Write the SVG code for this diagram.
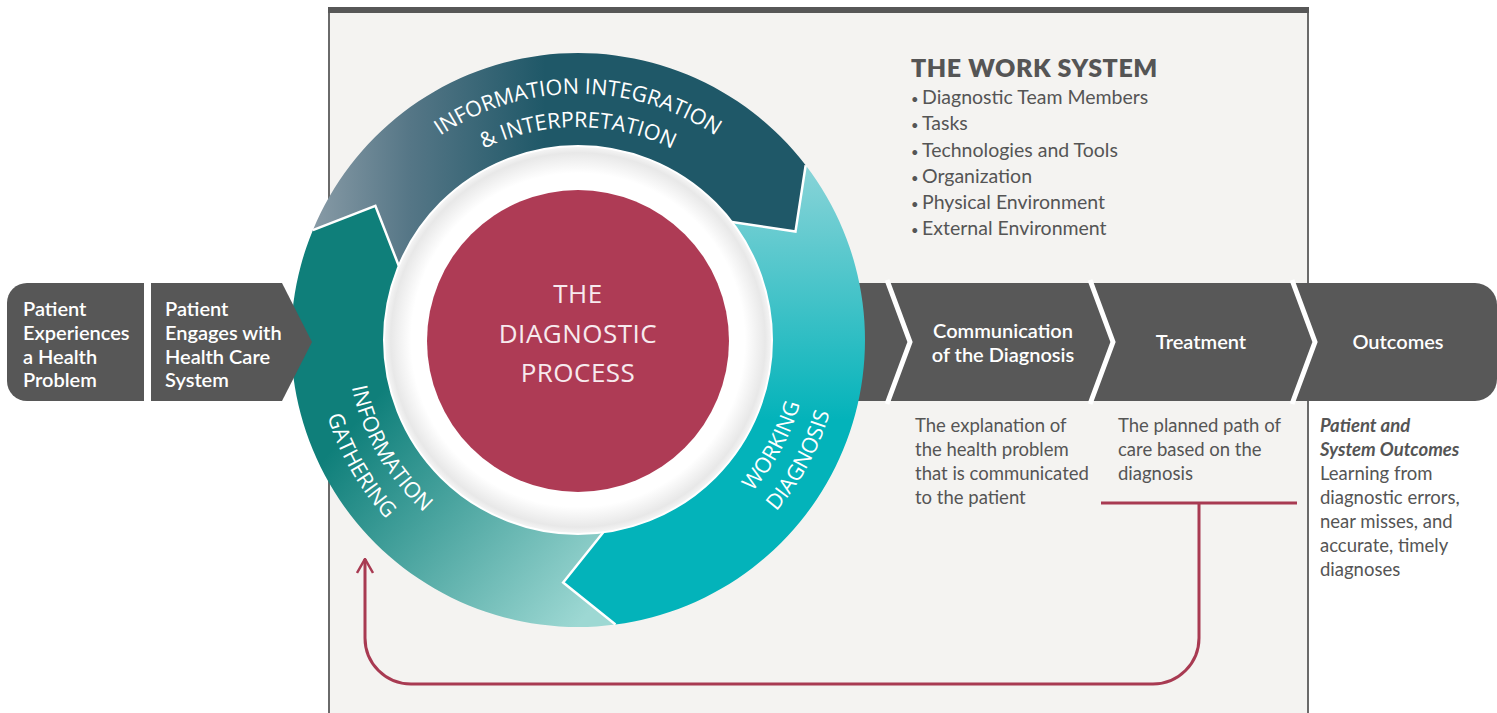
<svg xmlns="http://www.w3.org/2000/svg" width="1497" height="713" viewBox="0 0 1497 713">
<style>
.lbl{font-family:Lato,"Open Sans",sans-serif;font-weight:600;font-size:20px;fill:#ffffff}
.mid{text-anchor:middle}
.ring{font-family:"Open Sans","Noto Sans",sans-serif;font-size:21.5px;fill:#ffffff}
.ctr{font-family:"Open Sans","Noto Sans",sans-serif;font-size:26px;fill:#f7eaee;text-anchor:middle;letter-spacing:0.5px}
.desc{font-family:Lato,"Open Sans",sans-serif;font-size:18.5px;fill:#555555}
.ws{font-family:Lato,"Open Sans",sans-serif;font-size:19.5px;fill:#555555}
.dot{font-size:13px}
.wsh{font-family:Lato,"Open Sans",sans-serif;font-weight:800;font-size:25px;fill:#555555;letter-spacing:0.6px}
.bi{font-weight:700;font-style:italic}
.sep{fill:none;stroke:#ffffff;stroke-width:2.5;stroke-linejoin:miter}
.chev{fill:none;stroke:#ffffff;stroke-width:5}
.fb{fill:none;stroke:#a83a52;stroke-width:3}
</style>
<defs>
<linearGradient id="gDark" gradientUnits="userSpaceOnUse" x1="300" y1="0" x2="545" y2="0">
<stop offset="0" stop-color="#8e9faa"/>
<stop offset="0.45" stop-color="#557686"/>
<stop offset="1" stop-color="#1f5868"/>
</linearGradient>
<linearGradient id="gIG" gradientUnits="userSpaceOnUse" x1="340" y1="440" x2="570" y2="635">
<stop offset="0" stop-color="#0f7f7a"/>
<stop offset="1" stop-color="#9dd8d3"/>
</linearGradient>
<linearGradient id="gWD" gradientUnits="userSpaceOnUse" x1="0" y1="165" x2="0" y2="420">
<stop offset="0" stop-color="#8ad4d8"/>
<stop offset="1" stop-color="#03b3ba"/>
</linearGradient>
<radialGradient id="gDisc" gradientUnits="userSpaceOnUse" cx="578" cy="340" r="194">
<stop offset="0.86" stop-color="#ffffff"/>
<stop offset="0.965" stop-color="#e8e8e8"/>
<stop offset="1" stop-color="#f6f6f6"/>
</radialGradient>
<marker id="openArrow" viewBox="0 0 16 18" refX="15" refY="9" markerWidth="16" markerHeight="18" markerUnits="userSpaceOnUse" orient="auto">
<path d="M1,1 L15,9 L1,17" fill="none" stroke="#a83a52" stroke-width="2.5"/>
</marker>
<path id="tp1" d="M335.69,297.27 A246,246 0 0 1 820.31,297.27"/>
<path id="tp2" d="M368.24,303.02 A213,213 0 0 1 787.76,303.02"/>
<path id="tp3" d="M429.51,163.04 A231,231 0 0 0 657.01,557.07"/>
<path id="tp4" d="M409.59,139.29 A262,262 0 0 0 667.61,586.20"/>
<path id="tp5" d="M504.70,559.06 A231,231 0 0 0 721.80,159.22"/>
<path id="tp6" d="M494.87,588.46 A262,262 0 0 0 741.10,134.95"/>
</defs>

<rect x="0" y="0" width="1497" height="713" fill="#ffffff"/>

<g id="work-system">
<rect x="329" y="10" width="979" height="720" fill="#f4f3f1" stroke="#6a6a6a" stroke-width="2"/>
<line x1="328" y1="10" x2="1309" y2="10" stroke="#575757" stroke-width="6"/>
<text class="wsh" x="911" y="77">THE WORK SYSTEM</text>
<text class="ws" y="104"><tspan class="dot" x="911">•</tspan><tspan x="922">Diagnostic Team Members</tspan></text>
<text class="ws" y="130"><tspan class="dot" x="911">•</tspan><tspan x="922">Tasks</tspan></text>
<text class="ws" y="157"><tspan class="dot" x="911">•</tspan><tspan x="922">Technologies and Tools</tspan></text>
<text class="ws" y="183"><tspan class="dot" x="911">•</tspan><tspan x="922">Organization</tspan></text>
<text class="ws" y="209"><tspan class="dot" x="911">•</tspan><tspan x="922">Physical Environment</tspan></text>
<text class="ws" y="235"><tspan class="dot" x="911">•</tspan><tspan x="922">External Environment</tspan></text>
</g>

<g id="stage-bar">
<path d="M830,283 H1475 A22,22 0 0 1 1497,305 V379 A22,22 0 0 1 1475,401 H830 Z" fill="#585858"/>
<polyline class="chev" points="887,280 910,342 887,404"/>
<polyline class="chev" points="1090,280 1113,342 1090,404"/>
<polyline class="chev" points="1292,280 1315,342 1292,404"/>
</g>

<g id="communication">
<text class="lbl mid" x="1003" y="338">Communication</text>
<text class="lbl mid" x="1003" y="362">of the Diagnosis</text>
<text class="desc" x="915" y="432">The explanation of</text>
<text class="desc" x="915" y="456">the health problem</text>
<text class="desc" x="915" y="480">that is communicated</text>
<text class="desc" x="915" y="504">to the patient</text>
</g>

<g id="treatment">
<text class="lbl mid" x="1201" y="349">Treatment</text>
<text class="desc" x="1118" y="432">The planned path of</text>
<text class="desc" x="1118" y="456">care based on the</text>
<text class="desc" x="1118" y="480">diagnosis</text>
</g>

<g id="outcomes">
<text class="lbl mid" x="1398" y="349">Outcomes</text>
<text class="desc bi" x="1320" y="432">Patient and</text>
<text class="desc bi" x="1320" y="456">System Outcomes</text>
<text class="desc" x="1320" y="480">Learning from</text>
<text class="desc" x="1320" y="504">diagnostic errors,</text>
<text class="desc" x="1320" y="528">near misses, and</text>
<text class="desc" x="1320" y="552">accurate, timely</text>
<text class="desc" x="1320" y="576">diagnoses</text>
</g>

<g id="connectors">
<path class="fb" d="M1101,503 H1297"/>
<path class="fb" d="M1199,503 V638 A46,46 0 0 1 1153,684 H411 A46,46 0 0 1 365,638 V559" marker-end="url(#openArrow)"/>
</g>

<g id="information-gathering">
<path d="M615.46,624.54 A287,287 0 0 1 312.85,230.17 L375.36,205.88 L398.77,265.76 A194,194 0 0 0 603.32,532.34 L563.16,582.55 Z" fill="url(#gIG)"/>
<text class="ring"><textPath href="#tp3" startOffset="50%" text-anchor="middle">INFORMATION</textPath></text>
<text class="ring"><textPath href="#tp4" startOffset="50%" text-anchor="middle">GATHERING</textPath></text>
</g>

<g id="information-integration">
<path d="M312.85,230.17 A287,287 0 0 1 805.69,165.29 L795.47,231.57 L731.91,221.90 A194,194 0 0 0 398.77,265.76 L375.36,205.88 Z" fill="url(#gDark)"/>
<text class="ring"><textPath href="#tp1" startOffset="50%" text-anchor="middle">INFORMATION INTEGRATION</textPath></text>
<text class="ring"><textPath href="#tp2" startOffset="50%" text-anchor="middle">&amp; INTERPRETATION</textPath></text>
</g>

<g id="working-diagnosis">
<path d="M805.69,165.29 A287,287 0 0 1 615.46,624.54 L563.16,582.55 L603.32,532.34 A194,194 0 0 0 731.91,221.90 L795.47,231.57 Z" fill="url(#gWD)"/>
<text class="ring"><textPath href="#tp5" startOffset="50%" text-anchor="middle">WORKING</textPath></text>
<text class="ring"><textPath href="#tp6" startOffset="50%" text-anchor="middle">DIAGNOSIS</textPath></text>
</g>

<g id="ring-separators">
<polyline class="sep" points="615.46,624.54 563.16,582.55 603.32,532.34"/>
<polyline class="sep" points="312.85,230.17 375.36,205.88 398.77,265.76"/>
<polyline class="sep" points="805.69,165.29 795.47,231.57 731.91,221.90"/>
</g>

<g id="diagnostic-process">
<circle cx="578" cy="340" r="194" fill="url(#gDisc)" stroke="#ffffff" stroke-width="2"/>
<circle cx="578" cy="341" r="151" fill="#ae3b55"/>
<text class="ctr" x="578" y="303">THE</text>
<text class="ctr" x="578" y="343">DIAGNOSTIC</text>
<text class="ctr" x="578" y="382">PROCESS</text>
</g>

<g id="patient-experiences">
<path d="M27,283 H144 V401 H27 A20,20 0 0 1 7,381 V303 A20,20 0 0 1 27,283 Z" fill="#575757"/>
<text class="lbl" x="23" y="316">Patient</text>
<text class="lbl" x="23" y="340">Experiences</text>
<text class="lbl" x="23" y="364">a Health</text>
<text class="lbl" x="23" y="387">Problem</text>
</g>

<g id="patient-engages">
<path d="M151,283 H282 L312,342 L282,401 H151 Z" fill="#575757"/>
<text class="lbl" x="165" y="316">Patient</text>
<text class="lbl" x="165" y="340">Engages with</text>
<text class="lbl" x="165" y="364">Health Care</text>
<text class="lbl" x="165" y="387">System</text>
</g>
</svg>
